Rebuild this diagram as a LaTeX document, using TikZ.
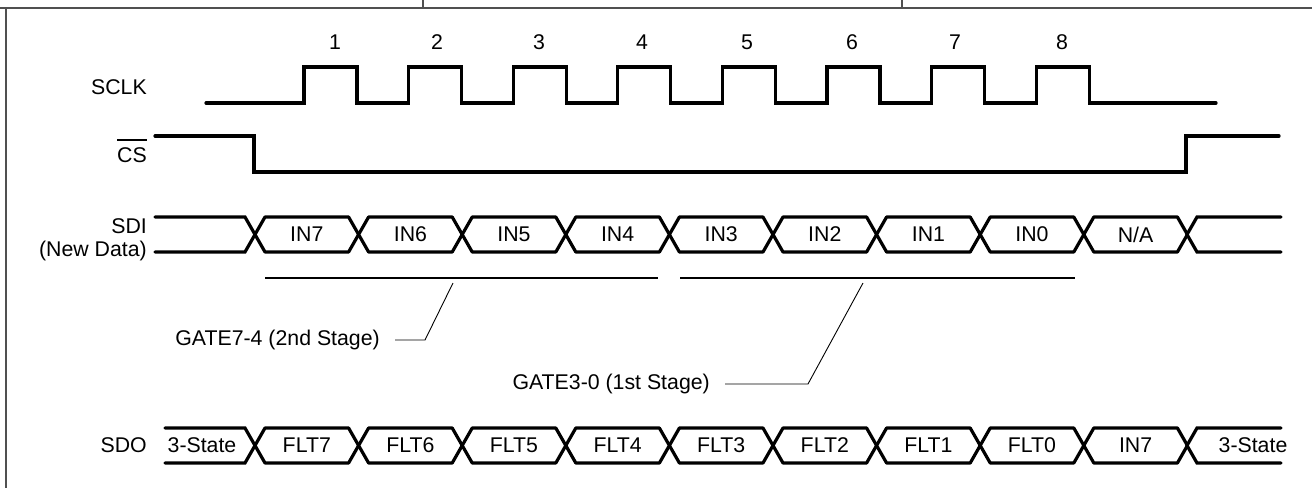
\documentclass[tikz,border=0pt]{standalone}
\usepackage{fontspec}
\setmainfont{Liberation Sans}
\usetikzlibrary{positioning}
\definecolor{framegray}{RGB}{80,80,80}
\tikzset{
  wave/.style={line width=3.2pt, line cap=round, line join=miter},
  buscell/.style={line width=3.2pt, line join=bevel},
  gatebar/.style={line width=2.4pt},
  leader/.style={line width=0.9pt},
  frameline/.style={line width=1.1pt, draw=framegray},
  siglbl/.style={anchor=base east, inner sep=0pt},
  celltxt/.style={inner sep=0pt}
}
\begin{document}
\begin{tikzpicture}[x=1pt,y=-1pt,font=\fontsize{21.3}{25}\selectfont]
  \useasboundingbox (0,0) rectangle (1312,488);
  % Frame
  \draw[frameline] (0,8) -- (1312,8);
  \draw[frameline] (6,8) -- (6,488);
  \draw[frameline] (423,0) -- (423,8);
  \draw[frameline] (902,0) -- (902,8);
  % Signal names
  \node[siglbl] (sclk) at (147,94) {SCLK};
  \node[siglbl] (cs) at (147,162) {CS};
  \draw[line width=1.9pt] ([yshift=7pt]cs.north west) -- ([yshift=7pt]cs.north east);
  \node[siglbl] (sdi) at (147,233) {SDI};
  \node[siglbl] (newdata) at (147,256) {(New Data)};
  \node[siglbl] (sdo) at (147,452) {SDO};
  % Clock count
  \foreach \n/\x in {1/335,2/437,3/539,4/642,5/747,6/852,7/955,8/1062} {
    \node[anchor=base, inner sep=0pt] (num\n) at (\x,49) {\n};
  }
  % SCLK
  \draw[wave] (206,103)
    \foreach \k in {0,...,7} {
      -- ({304+104.6*\k},103) -- ({304+104.6*\k},67)
      -- ({357+104.6*\k},67) -- ({357+104.6*\k},103)
    } -- (1216,103);
  % CS
  \draw[wave] (155,136) -- (254,136) -- (254,172) -- (1186,172)
    -- (1186,136) -- (1279,136);
  % SDI bus
  \draw[wave] (155,217) -- (245,217) -- (255,234.5) -- (245,252) -- (155,252);
  \foreach \lbl [count=\k from 0] in {IN7,IN6,IN5,IN4,IN3,IN2,IN1,IN0,N/A} {
    \pgfmathsetmacro{\xa}{255+103.6*\k}
    \pgfmathsetmacro{\xb}{\xa+103.6}
    \draw[buscell] (\xa,234.5) -- ({\xa+10},217) -- ({\xb-10},217)
      -- (\xb,234.5) -- ({\xb-10},252) -- ({\xa+10},252) -- cycle;
    \node[celltxt] (sdi\k) at ({(\xa+\xb)/2},234.5) {\lbl};
  }
  \draw[wave] (1281,217) -- (1197,217) -- (1187,234.5) -- (1197,252) -- (1281,252);
  % Gate groups
  \draw[gatebar] (265,278) coordinate (g74l) -- (658,278) coordinate (g74r);
  \draw[gatebar] (680,278) coordinate (g30l) -- (1075,278) coordinate (g30r);
  \node[anchor=east, inner sep=0pt] (gate74) at (380,340) {GATE7-4 (2nd Stage)};
  \coordinate (tip74) at (453,283);
  \draw[leader] ([xshift=15pt]gate74.east) -- ([xshift=45pt]gate74.east) -- (tip74);
  \node[anchor=east, inner sep=0pt] (gate30) at (710,384) {GATE3-0 (1st Stage)};
  \coordinate (tip30) at (863,283);
  \draw[leader] ([xshift=15pt]gate30.east) -- ([xshift=98pt]gate30.east) -- (tip30);
  % SDO bus
  \draw[wave] (165,428) -- (245,428) -- (255,445.5) -- (245,463) -- (165,463);
  \node[celltxt] (sdoz0) at (202,445.5) {3-State};
  \foreach \lbl [count=\k from 0] in {FLT7,FLT6,FLT5,FLT4,FLT3,FLT2,FLT1,FLT0,IN7} {
    \pgfmathsetmacro{\xa}{255+103.6*\k}
    \pgfmathsetmacro{\xb}{\xa+103.6}
    \draw[buscell] (\xa,445.5) -- ({\xa+10},428) -- ({\xb-10},428)
      -- (\xb,445.5) -- ({\xb-10},463) -- ({\xa+10},463) -- cycle;
    \node[celltxt] (sdo\k) at ({(\xa+\xb)/2},445.5) {\lbl};
  }
  \draw[wave] (1281,428) -- (1197,428) -- (1187,445.5) -- (1197,463) -- (1281,463);
  \node[celltxt] (sdoz1) at (1253,445.5) {3-State};
\end{tikzpicture}
\end{document}
